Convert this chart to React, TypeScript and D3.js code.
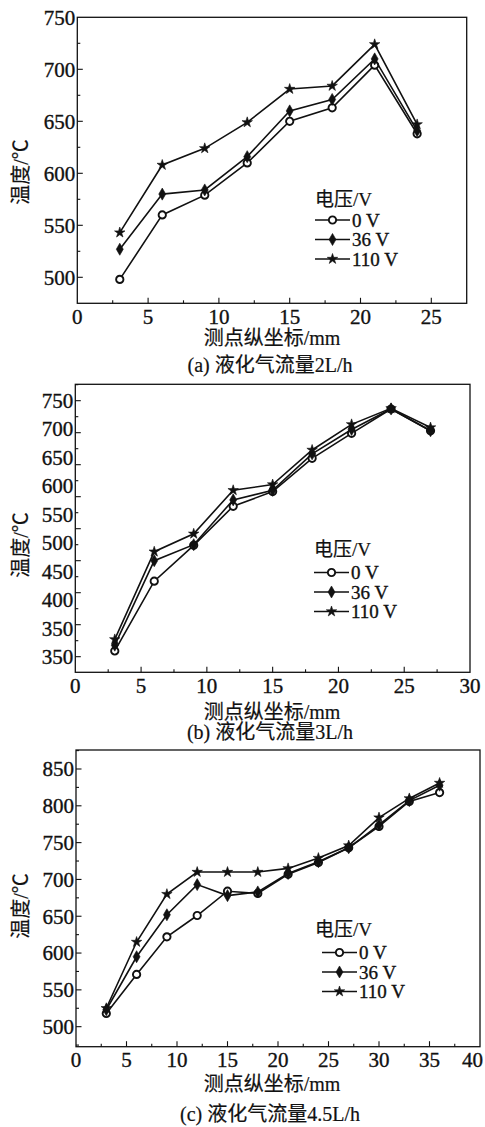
import { useEffect, useRef } from "react"
import * as d3 from "d3"

// panel (a) 液化气流量 2L/h
const xA = [3, 6, 9, 12, 15, 18, 21, 24]
const a0V = [498, 560, 579, 610, 650, 663, 704, 638]
const a36V = [527, 580, 584, 616, 660, 671, 710, 641]
const a110V = [543, 608, 624, 649, 681, 684, 724, 647]
const xTicksA = [0, 5, 10, 15, 20, 25]
const yTicksA = [500, 550, 600, 650, 700, 750]
const yLabelsA = ["500", "550", "600", "650", "700", "750"]

// panel (b) 液化气流量 3L/h
const xB = [3, 6, 9, 12, 15, 18, 21, 24, 27]
const b0V = [359, 468, 524, 585, 608, 660, 699, 737, 703]
const b36V = [368, 500, 525, 595, 610, 667, 705, 737, 703]
const b110V = [377, 514, 542, 610, 619, 673, 713, 738, 708]
const xTicksB = [0, 5, 10, 15, 20, 25, 30]
const yTicksB = [350, 400, 450, 500, 550, 600, 650, 700, 750]
// labels as printed in the figure (bottom one repeated)
const yLabelsB = ["750", "700", "650", "600", "550", "500", "450", "400", "350", "350"]

// panel (c) 液化气流量 4.5L/h
const xC = [3, 6, 9, 12, 15, 18, 21, 24, 27, 30, 33, 36]
const c0V = [518, 571, 622, 651, 684, 681, 707, 723, 743, 772, 806, 818]
const c36V = [523, 595, 652, 693, 678, 683, 708, 724, 743, 774, 807, 828]
const c110V = [525, 615, 680, 710, 710, 710, 715, 729, 746, 784, 810, 831]
const xTicksC = [0, 5, 10, 15, 20, 25, 30, 35, 40]
const yTicksC = [500, 550, 600, 650, 700, 750, 800, 850]
const yLabelsC = ["500", "550", "600", "650", "700", "750", "800", "850"]

const seriesNames = ["0 V", "36 V", "110 V"]
const legendTitle = "电压/V"
const yTitle = "温度/℃"
const xTitle = "测点纵坐标/mm"

const FONT = "'Liberation Serif', 'Times New Roman', 'Noto Sans CJK SC', serif"
const PAGE_W = 485

const panels = [
    {
        x: xA, series: [a0V, a36V, a110V],
        xDomain: [0, 27.5], yDomain: [475, 750],
        box: { left: 77.3, right: 466.7, top: 17.3, bottom: 303.3 },
        xTicks: xTicksA, yTicks: yTicksA, yLabels: yLabelsA, spreadLabels: false,
        legend: { x: 315, titleY: 199.5, rows: [220, 239.5, 259], lineW: 35 },
        xTitleY: 338, captionY: 365, yTitleY: 172,
        caption: "(a) 液化气流量2L/h",
    },
    {
        x: xB, series: [b0V, b36V, b110V],
        xDomain: [0, 30], yDomain: [325.6, 775.6],
        box: { left: 75.3, right: 470, top: 384.3, bottom: 672.3 },
        xTicks: xTicksB, yTicks: yTicksB, yLabels: yLabelsB, spreadLabels: true,
        legend: { x: 314, titleY: 549, rows: [572.5, 592, 611.5], lineW: 35 },
        xTitleY: 711.5, captionY: 732, yTitleY: 545,
        caption: "(b) 液化气流量3L/h",
    },
    {
        x: xC, series: [c0V, c36V, c110V],
        xDomain: [0, 40], yDomain: [472.8, 875.8],
        box: { left: 76, right: 480, top: 750, bottom: 1046.7 },
        xTicks: xTicksC, yTicks: yTicksC, yLabels: yLabelsC, spreadLabels: false,
        legend: { x: 322, titleY: 929, rows: [952.5, 972, 991.5], lineW: 35, titleX: 315 },
        xTitleY: 1084, captionY: 1114, yTitleY: 906,
        caption: "(c) 液化气流量4.5L/h",
    },
]

const symbols = [d3.symbolCircle, d3.symbolDiamond, d3.symbolStar]
const symbolSizes = [42, 42, 34]

function drawMarker(g, i, cx, cy) {
    const path = d3.symbol().type(symbols[i]).size(symbolSizes[i])()
    const m = g.append("path")
        .attr("d", path)
        .attr("transform", `translate(${cx},${cy})`)
    if (i === 0) {
        m.attr("fill", "#fff").attr("stroke", "#111").attr("stroke-width", 1.9)
    } else {
        m.attr("fill", "#111").attr("stroke", "#111").attr("stroke-width", 0.6)
    }
}

function styleText(sel, size) {
    return sel
        .attr("font-size", size)
        .attr("font-family", FONT)
        .attr("fill", "#111")
        .attr("stroke", "#111")
        .attr("stroke-width", 0.35)
}

export default function App() {
    const ref = useRef(null)

    useEffect(() => {
        const svg = d3.select(ref.current)
        svg.selectAll("*").remove()

        panels.forEach((p) => {
            const { box } = p
            const g = svg.append("g")
            const x = d3.scaleLinear().domain(p.xDomain).range([box.left, box.right])
            const y = d3.scaleLinear().domain(p.yDomain).range([box.bottom, box.top])

            // frame
            g.append("rect")
                .attr("x", box.left).attr("y", box.top)
                .attr("width", box.right - box.left).attr("height", box.bottom - box.top)
                .attr("fill", "none").attr("stroke", "#111").attr("stroke-width", 1.3)

            // x ticks (inward) + minor
            const xMinor = d3.range(p.xDomain[0] + 2.5, p.xDomain[1], 2.5)
                .filter(v => !p.xTicks.includes(v))
            g.append("g").selectAll("line").data(xMinor).join("line")
                .attr("x1", d => x(d)).attr("x2", d => x(d))
                .attr("y1", box.bottom).attr("y2", box.bottom - 3)
                .attr("stroke", "#111").attr("stroke-width", 1.1)
            g.append("g").selectAll("line").data(p.xTicks.filter(v => v > p.xDomain[0] && v < p.xDomain[1])).join("line")
                .attr("x1", d => x(d)).attr("x2", d => x(d))
                .attr("y1", box.bottom).attr("y2", box.bottom - 5.5)
                .attr("stroke", "#111").attr("stroke-width", 1.1)
            styleText(g.append("g").selectAll("text").data(p.xTicks).join("text"), 21)
                .attr("x", d => (x(d) + 13 > PAGE_W ? PAGE_W - 2 : x(d)))
                .attr("y", box.bottom + 13)
                .attr("dy", "0.35em")
                .attr("text-anchor", d => (x(d) + 13 > PAGE_W ? "end" : "middle"))
                .text(d => d)

            // y ticks (inward) + minor
            const yMinor = d3.range(p.yTicks[0] - 25, p.yDomain[1], 25)
                .filter(v => v > p.yDomain[0] && v < p.yDomain[1] && !p.yTicks.includes(v))
            g.append("g").selectAll("line").data(yMinor).join("line")
                .attr("x1", box.left).attr("x2", box.left + 3)
                .attr("y1", d => y(d)).attr("y2", d => y(d))
                .attr("stroke", "#111").attr("stroke-width", 1.1)
            g.append("g").selectAll("line").data(p.yTicks.filter(v => v < p.yDomain[1])).join("line")
                .attr("x1", box.left).attr("x2", box.left + 5.5)
                .attr("y1", d => y(d)).attr("y2", d => y(d))
                .attr("stroke", "#111").attr("stroke-width", 1.1)

            let labelY
            if (p.spreadLabels) {
                const yl = d3.scalePoint()
                    .domain(d3.range(p.yLabels.length))
                    .range([y(d3.max(p.yTicks)), y(d3.min(p.yTicks))])
                labelY = (i) => yl(i)
            } else {
                labelY = (i) => y(p.yTicks[i])
            }
            styleText(g.append("g").selectAll("text").data(p.yLabels).join("text"), 21)
                .attr("x", box.left - 2)
                .attr("y", (d, i) => labelY(i))
                .attr("dy", "0.35em")
                .attr("text-anchor", "end")
                .text(d => d)

            // lines + markers
            const line = d3.line()
                .x(d => x(d[0]))
                .y(d => y(d[1]))
            p.series.forEach((vals, si) => {
                const pts = p.x.map((xv, k) => [xv, vals[k]])
                g.append("path")
                    .datum(pts)
                    .attr("fill", "none")
                    .attr("stroke", "#111")
                    .attr("stroke-width", 1.6)
                    .attr("d", line)
                pts.forEach(d => drawMarker(g, si, x(d[0]), y(d[1])))
            })

            // legend
            const lg = p.legend
            styleText(g.append("text"), 19)
                .attr("x", lg.titleX ?? lg.x).attr("y", lg.titleY)
                .attr("dy", "0.35em")
                .attr("stroke-width", 0.2)
                .text(legendTitle)
            seriesNames.forEach((name, si) => {
                const ry = lg.rows[si]
                g.append("line")
                    .attr("x1", lg.x).attr("x2", lg.x + lg.lineW)
                    .attr("y1", ry).attr("y2", ry)
                    .attr("stroke", "#111").attr("stroke-width", 1.6)
                drawMarker(g, si, lg.x + lg.lineW / 2, ry)
                styleText(g.append("text"), 19)
                    .attr("x", lg.x + lg.lineW + 2).attr("y", ry)
                    .attr("dy", "0.35em")
                    .text(name)
            })

            // axis titles and caption
            const cx = 272
            styleText(g.append("text"), 20)
                .attr("x", cx).attr("y", p.xTitleY)
                .attr("dy", "0.35em")
                .attr("text-anchor", "middle")
                .attr("stroke-width", 0.2)
                .text(xTitle)
            styleText(g.append("text"), 20)
                .attr("x", cx - 2).attr("y", p.captionY)
                .attr("dy", "0.35em")
                .attr("text-anchor", "middle")
                .attr("stroke-width", 0.2)
                .text(p.caption)
            styleText(g.append("text"), 20)
                .attr("transform", `translate(21,${p.yTitleY}) rotate(-90)`)
                .attr("dy", "0.35em")
                .attr("text-anchor", "middle")
                .attr("stroke-width", 0.2)
                .text(yTitle)
        })
    }, [])

    return (
        <svg
            ref={ref}
            width={485}
            height={1127}
            style={{ position: "absolute", left: 0, top: 0, background: "#fff" }}
        />
    )
}
